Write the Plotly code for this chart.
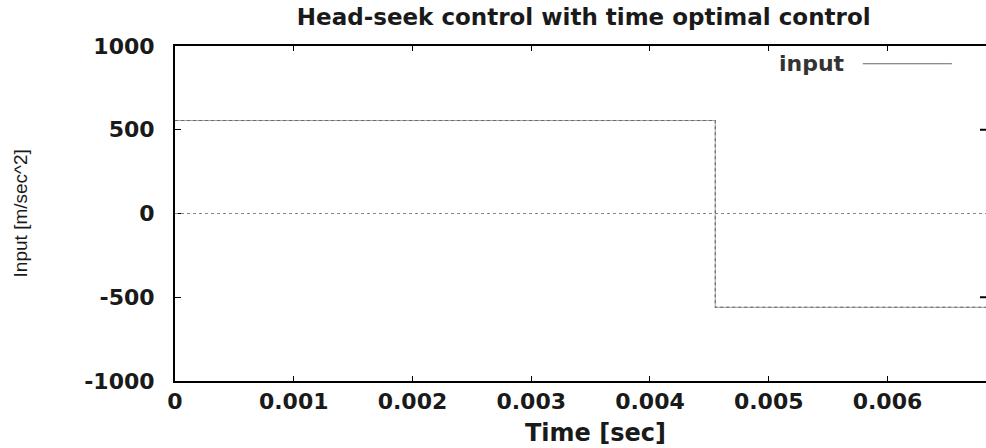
import plotly.graph_objects as go

# Time-optimal (bang-bang) acceleration input for a head-seek move
time_s = [0.0, 0.00455, 0.00455, 0.00683]
accel = [555, 555, -560, -560]

x_ticks = [0, 0.001, 0.002, 0.003, 0.004, 0.005, 0.006]
x_tick_text = ["0", "0.001", "0.002", "0.003", "0.004", "0.005", "0.006"]
y_ticks = [-1000, -500, 0, 500, 1000]
y_tick_text = ["-1000", "-500", "0", "500", "1000"]

wide = "DejaVu Sans, Verdana, sans-serif"
plain = "Liberation Sans, Arial, sans-serif"
ink = "#1a1a1a"

fig = go.Figure()

fig.add_trace(go.Scatter(
    x=time_s, y=accel, mode="lines", name="input",
    line=dict(color="#555555", width=1.1, dash="dot"),
    showlegend=False,
))
fig.add_trace(go.Scatter(
    x=time_s, y=accel, mode="lines", name="input",
    line=dict(color="#777777", width=0.7),
    showlegend=False,
))

fig.update_layout(
    width=986, height=448,
    margin=dict(l=175, r=0, t=46, b=67),
    paper_bgcolor="white", plot_bgcolor="white",
    font=dict(family=wide, color=ink, size=20),
    title=dict(
        text="<b>Head-seek control with time optimal control</b>",
        x=0.592, xanchor="center", y=0.963, yanchor="middle",
        font=dict(size=23, family=wide, color=ink),
    ),
    xaxis=dict(
        range=[0, 0.00683],
        tickvals=x_ticks, ticktext=[f"<b>{t}</b>" for t in x_tick_text],
        ticks="inside", ticklen=5, tickwidth=1.2, tickcolor="black",
        ticklabelstandoff=0,
        showline=True, linecolor="black", linewidth=2, mirror="ticks",
        showgrid=False, zeroline=False,
        tickfont=dict(size=22, family=wide, color=ink),
    ),
    yaxis=dict(
        range=[-1000, 1000],
        tickvals=y_ticks, ticktext=[f"<b>{t}</b>" for t in y_tick_text],
        ticks="inside", ticklen=6, tickwidth=1.2, tickcolor="black",
        ticklabelstandoff=14,
        showline=True, linecolor="black", linewidth=2,
        showgrid=False, zeroline=False,
        tickfont=dict(size=22, family=wide, color=ink),
    ),
)

# Axis titles
fig.add_annotation(xref="paper", yref="paper", x=0.518, y=-0.155, text="<b>Time [sec]</b>",
                   showarrow=False, xanchor="center", yanchor="middle",
                   font=dict(size=24, family=wide, color=ink))
fig.add_annotation(xref="paper", yref="paper", x=-0.19, y=0.5, text="Input [m/sec^2]",
                   showarrow=False, textangle=-90, xanchor="center", yanchor="middle",
                   font=dict(size=19, family=plain, color=ink))

# Dotted zero reference across the plot
fig.add_shape(type="line", xref="paper", yref="y", x0=0, x1=1, y0=0, y1=0,
              line=dict(color="#888888", width=1, dash="dot"))

# Inward ticks on the right-hand border
for yv in (500, -500):
    fig.add_shape(type="line", xref="paper", yref="y", x0=0.9926, x1=1.0, y0=yv, y1=yv,
                  line=dict(color="black", width=2))

# Key: label followed by its line sample
fig.add_annotation(xref="paper", yref="paper", x=0.829, y=0.947, text="<b>input</b>",
                   showarrow=False, xanchor="right", yanchor="middle",
                   font=dict(size=22, family=wide, color="#333333"))
fig.add_shape(type="line", xref="paper", yref="paper", x0=0.848, x1=0.958, y0=0.947, y1=0.947,
              line=dict(color="#666666", width=1))

fig.write_html("out.html")
